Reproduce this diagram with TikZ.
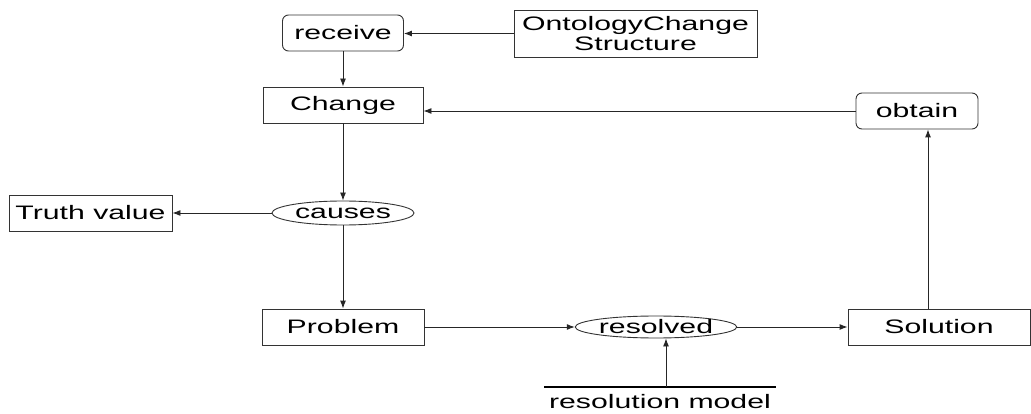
\documentclass[tikz,border=0pt]{standalone}
\usepackage{fontspec}
\setmainfont[FakeStretch=1.55]{Liberation Sans}
\usetikzlibrary{arrows.meta,shapes.geometric}
\begin{document}
\begin{tikzpicture}[x=1pt,y=-1pt,
  every node/.style={font=\fontsize{19.5}{20}\selectfont, inner sep=0pt},
  bx/.style={draw=black!80, line width=0.9pt, minimum width=#1, minimum height=36pt},
  rbx/.style={bx=#1, rounded corners=6pt},
  ell/.style={draw=black!80, line width=0.9pt, ellipse, minimum width=#1, minimum height=24pt},
  arr/.style={draw=black!85, line width=0.9pt, -{Latex[length=8pt,width=6pt]}}]
\useasboundingbox (0,0) rectangle (1031,414);
\node[rbx=121pt] (rec) at (343,33) {receive};
\node[bx=243pt, minimum height=47pt, align=center] (ont) at (635.5,33.5) {OntologyChange\\Structure};
\node[bx=160pt] (chg) at (343,105) {Change};
\node[rbx=122pt] (obt) at (917,111) {obtain};
\node[ell=142pt] (cau) at (343,213) {causes};
\node[bx=163pt] (tru) at (90.5,213) {Truth value};
\node[bx=162pt] (prb) at (343,327) {Problem};
\node[ell=140pt, minimum height=22pt] (res) at (656,327) {resolved};
\node[bx=182pt] (sol) at (939,327) {Solution};
\coordinate (rmL) at (544,387);
\coordinate (rmR) at (776,387);
\coordinate (rmA) at (666,387);
\node[anchor=base] (rmt) at (660,408) {resolution model};
\draw[line width=2.4pt] (rmL) -- (rmR);
\draw[arr] (ont.west) -- (ont.west -| rec.east);
\draw[arr] (rec.south) -- (chg.north);
\draw[arr] (chg.south) -- (cau.north);
\draw[arr] (cau.west) -- (tru.east);
\draw[arr] (cau.south) -- (prb.north);
\draw[arr] (prb.east) -- (res.west);
\draw[arr] (res.east) -- (sol.west);
\draw[arr] ([xshift=-11pt]sol.north) -- ([xshift=-11pt]sol.north |- obt.south);
\draw[arr] (obt.west) -- (obt.west -| chg.east);
\draw[arr] (rmA) -- (rmA |- res.south);
\end{tikzpicture}
\end{document}
